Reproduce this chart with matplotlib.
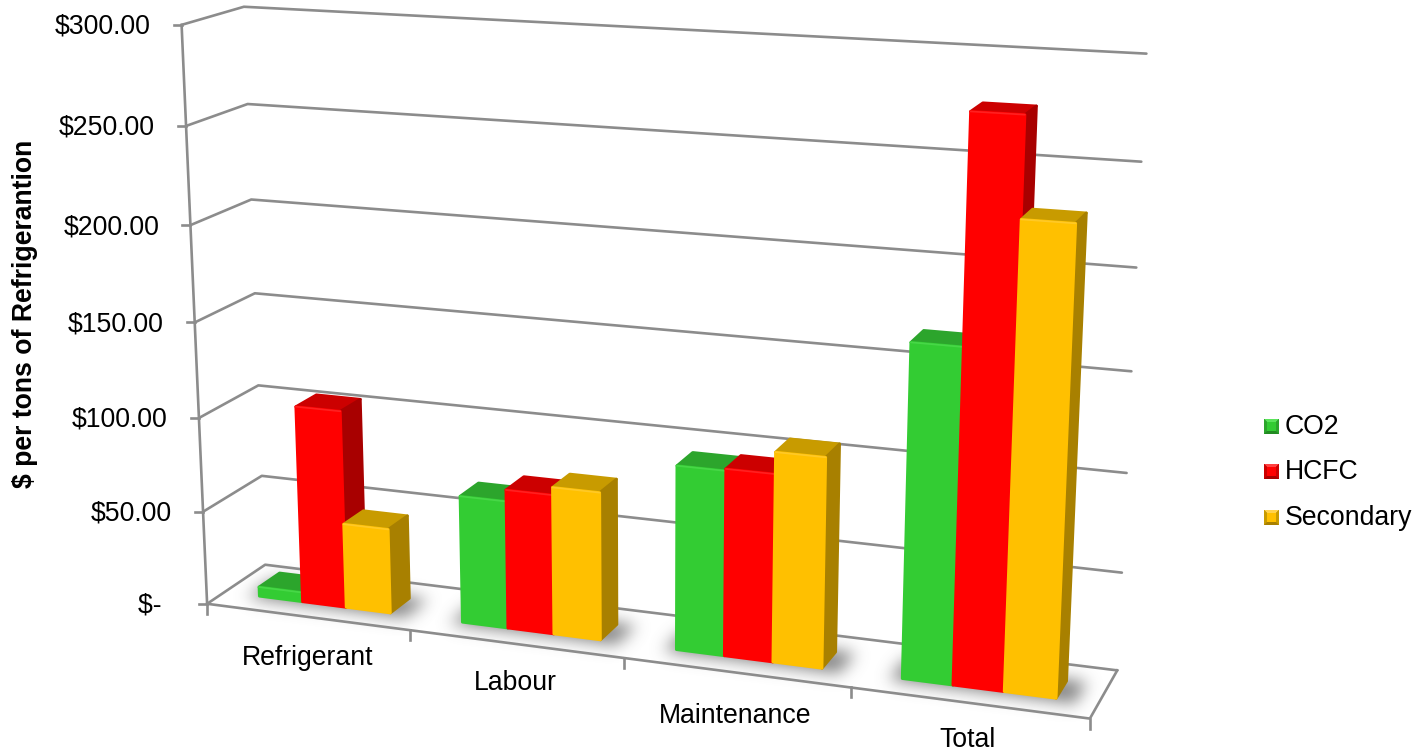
import matplotlib
matplotlib.use('Agg')
import matplotlib.pyplot as plt
import numpy as np
from matplotlib.patches import Polygon
from matplotlib.path import Path

plt.rcParams['font.family'] = ['Liberation Sans', 'DejaVu Sans']

categories = ['Refrigerant', 'Labour', 'Maintenance', 'Total']
co2 = [5, 67, 95, 167]
hcfc = [105, 73, 96, 277]
secondary = [45, 77, 107, 229]
series_names = ['CO2', 'HCFC', 'Secondary']
y_ticks = [0, 50, 100, 150, 200, 250, 300]
y_labels = ['$-  ', '$50.00', '$100.00', '$150.00', '$200.00', '$250.00', '$300.00']

# front, top, side, bevel highlight
palette = [('#33CC33', '#2CA52C', '#228B22', '#5BE35B'),
           ('#FF0000', '#CC0000', '#A80000', '#FF4040'),
           ('#FFC000', '#C89B00', '#A88000', '#FFD24D')]

GRID = '#8C8C8C'
FS = 19.2

# camera: reference corners of the 3D box (category pos, depth, value) -> pixel
cal_world = np.array([(0, 0, 0), (0, 0, 300), (0, 1, 0), (0, 1, 300), (4, 1, 0), (4, 1, 300),
                      (4, 0, 0), (0, 1, 150), (4, 1, 150), (1, 0, 0), (2, 0, 0), (3, 0, 0)], float)
cal_pix = np.array([(207, 603), (181, 25), (265, 565), (245, 7), (1117, 670), (1146, 53),
                    (1090, 718), (254, 293), (1132, 372), (411, 630), (625, 659), (850, 688)], float)

rows, rhs = [], []
for (a, b, c), (u, v) in zip(cal_world, cal_pix):
    rows.append([a, b, c, 1, 0, 0, 0, 0, -u * a, -u * b, -u * c])
    rows.append([0, 0, 0, 0, a, b, c, 1, -v * a, -v * b, -v * c])
    rhs += [u, v]
cam = np.append(np.linalg.lstsq(np.array(rows), np.array(rhs), rcond=None)[0], 1).reshape(3, 4)


def project(a, b, c):
    h = cam @ np.array([a, b, c, 1.0])
    return h[0] / h[2], h[1] / h[2]


def quad(points):
    return [project(*p) for p in points]


fig = plt.figure(figsize=(14.22, 7.52), dpi=100)
ax = fig.add_axes([0, 0, 1, 1])
ax.axis('off')

bar_w = 0.217
gap = (1 - 3 * bar_w) / 2
d0, d1 = 0.30, 0.66

# soft shadows under each group
yy, xx = np.mgrid[0:752, 0:1422]
shadow = np.zeros((752, 1422))
kernel = np.exp(-0.5 * (np.arange(-24, 25) / 8.0) ** 2)
kernel /= kernel.sum()
for i in range(len(categories)):
    s = i + gap - 0.05
    e = i + 1 - gap + 0.08
    path = Path(quad([(s, d0 - 0.05, 0), (e, d0 - 0.05, 0), (e, d1 + 0.04, 0), (s, d1 + 0.04, 0)]))
    mask = path.contains_points(np.c_[xx.ravel(), yy.ravel()]).reshape(xx.shape).astype(float)
    r0, r1 = np.where(mask.any(axis=1))[0][[0, -1]]
    c0, c1 = np.where(mask.any(axis=0))[0][[0, -1]]
    r0, r1, c0, c1 = max(r0 - 30, 0), min(r1 + 30, 751), c0 - 30, c1 + 30
    crop = mask[r0:r1 + 1, c0:c1 + 1]
    crop = np.apply_along_axis(np.convolve, 0, crop, kernel, 'same')
    crop = np.apply_along_axis(np.convolve, 1, crop, kernel, 'same')
    shadow[r0:r1 + 1, c0:c1 + 1] = np.maximum(shadow[r0:r1 + 1, c0:c1 + 1], crop)
rgba = np.zeros((752, 1422, 4))
rgba[..., :3] = 0.42
rgba[..., 3] = np.clip(shadow * 0.85, 0, 0.7)
ax.imshow(rgba, extent=(0, 1422, 752, 0), zorder=1, aspect='auto', interpolation='bilinear')
ax.set_xlim(0, 1422)
ax.set_ylim(752, 0)

# walls and floor lines
for v in y_ticks:
    pts = quad([(0, 0, v), (0, 1, v), (4, 1, v)])
    ax.plot(*zip(*pts), color=GRID, lw=1.9, zorder=2, solid_capstyle='round')
    x, y = project(0, 0, v)
    ax.plot([x - 8, x], [y, y], color=GRID, lw=1.9, zorder=2)
ax.plot(*zip(*quad([(0, 0, 0), (0, 0, 300)])), color=GRID, lw=1.9, zorder=2)
ax.plot(*zip(*quad([(0, 0, 0), (4, 0, 0), (4, 1, 0)])), color=GRID, lw=1.9, zorder=2)
for i in range(len(categories) + 1):
    x, y = project(i, 0, 0)
    ax.plot([x, x], [y, y + 10], color=GRID, lw=1.9, zorder=2)

# tick labels
for v, lab in zip(y_ticks, y_labels):
    x, y = project(0, 0, v)
    ax.text(x - 31, y + 2, lab, ha='right', va='center', fontsize=FS, color='black')

label_pos = [(308, 658), (515, 683), (735, 716), (968, 740)]
for lab, (x, y) in zip(categories, label_pos):
    ax.text(x, y, lab, ha='center', va='center', fontsize=FS, color='black')

ax.text(25, 314, '$ per tons of Refrigerantion', rotation=90, ha='center', va='center',
        fontsize=FS, fontweight='bold', color='black')

# bars, left to right so each one hides the side of the previous
z = 5
for i in range(len(categories)):
    for j, vals in enumerate([co2, hcfc, secondary]):
        v = vals[i]
        x0 = i + gap + j * bar_w
        x1 = x0 + bar_w
        front, top, side, light = palette[j]
        faces = [
            (quad([(x0, d0, v), (x1, d0, v), (x1, d1, v), (x0, d1, v)]), top),
            (quad([(x1, d0, 0), (x1, d1, 0), (x1, d1, v), (x1, d0, v)]), side),
            (quad([(x0, d0, 0), (x1, d0, 0), (x1, d0, v), (x0, d0, v)]), front),
        ]
        for pts, col in faces:
            ax.add_patch(Polygon(pts, closed=True, facecolor=col, edgecolor=col, lw=2.0,
                                 joinstyle='round', zorder=z))
        ax.plot(*zip(*quad([(x0, d0, v), (x1, d0, v)])), color=light, lw=1.2, alpha=0.5,
                zorder=z + 0.5, solid_capstyle='round')
        z += 1

# legend
swatches = [(1264, 419), (1264, 464), (1264, 510)]
for (x, y), name, (front, top, side, light) in zip(swatches, series_names, palette):
    s = 15
    m = 3
    ax.add_patch(Polygon([(x, y), (x + s, y), (x + s, y + s), (x, y + s)], facecolor=side, edgecolor='none', zorder=z))
    ax.add_patch(Polygon([(x, y), (x + s, y), (x + s - m, y + m), (x + m, y + m)], facecolor=light, edgecolor='none', zorder=z + 1))
    ax.add_patch(Polygon([(x, y), (x + m, y + m), (x + m, y + s - m), (x, y + s)], facecolor=top, edgecolor='none', zorder=z + 1))
    ax.add_patch(Polygon([(x + s, y), (x + s - m, y + m), (x + s - m, y + s - m), (x + s, y + s)], facecolor=top, edgecolor='none', zorder=z + 1))
    ax.add_patch(Polygon([(x + m, y + m), (x + s - m, y + m), (x + s - m, y + s - m), (x + m, y + s - m)], facecolor=front, edgecolor='none', zorder=z + 2))
    ax.text(x + 21, y + 8, name, ha='left', va='center', fontsize=FS, color='black')

fig.savefig('out.png', dpi=100)
plt.close()
